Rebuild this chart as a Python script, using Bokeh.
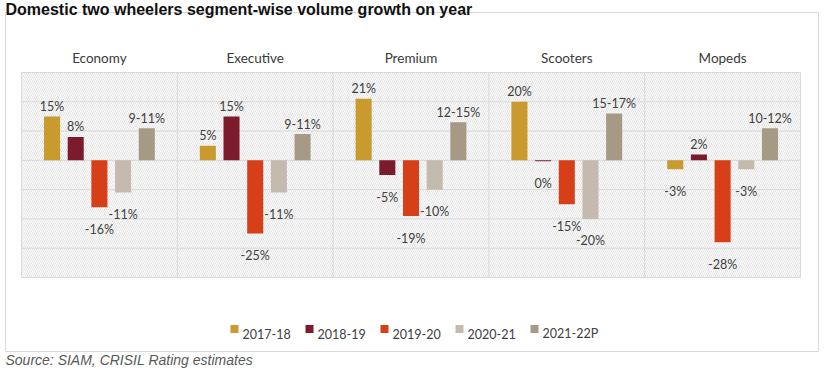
from bokeh.plotting import figure
from bokeh.models import Range1d, ColumnDataSource
from bokeh.core.properties import value
from bokeh.embed import file_html
from bokeh.resources import INLINE

# ---------------- data ----------------
title_text = "Domestic two wheelers segment-wise volume growth on year"
source_text = "Source: SIAM, CRISIL Rating estimates"
categories = ["Economy", "Executive", "Premium", "Scooters", "Mopeds"]
years = ["2017-18", "2018-19", "2019-20", "2020-21", "2021-22P"]
colors = ["#C99A2E", "#7B1B2B", "#D63F18", "#C4BAAE", "#A69985"]

v_2017_18 = [15, 5, 21, 20, -3]
v_2018_19 = [8, 15, -5, -0.3, 2]
v_2019_20 = [-16, -25, -19, -15, -28]
v_2020_21 = [-11, -11, -10, -20, -3]
v_2021_22p = [11, 9, 13, 16, 11]

l_2017_18 = ["15%", "5%", "21%", "20%", "-3%"]
l_2018_19 = ["8%", "15%", "-5%", "0%", "2%"]
l_2019_20 = ["-16%", "-25%", "-19%", "-15%", "-28%"]
l_2020_21 = ["-11%", "-11%", "-10%", "-20%", "-3%"]
l_2021_22p = ["9-11%", "9-11%", "12-15%", "15-17%", "10-12%"]

y_ticks = [-40, -30, -20, -10, 0, 10, 20, 30]

series_values = [v_2017_18, v_2018_19, v_2019_20, v_2020_21, v_2021_22p]
series_labels = [l_2017_18, l_2018_19, l_2019_20, l_2020_21, l_2021_22p]

# ---------------- layout ----------------
W, H = 823, 368
PLOT_LEFT, PLOT_RIGHT = 21, 800
PLOT_TOP, PLOT_BOTTOM = 72, 277
n = len(categories)
Y_MIN, Y_MAX = y_ticks[0], y_ticks[-1]
ky = (PLOT_BOTTOM - PLOT_TOP) / (Y_MAX - Y_MIN)
kx = (PLOT_RIGHT - PLOT_LEFT) / n
BAR_PITCH = 0.152
BAR_W = 0.103
LABEL_FONT = value("Lato")
LABEL_COLOR = "#404040"

x_range = Range1d(-PLOT_LEFT / kx, n + (W - PLOT_RIGHT) / kx)
y_range = Range1d(Y_MIN - (H - PLOT_BOTTOM) / ky, Y_MAX + PLOT_TOP / ky)

p = figure(width=W, height=H, x_range=x_range, y_range=y_range,
           output_backend="svg", toolbar_location=None,
           x_axis_location=None, y_axis_location=None,
           min_border=0, min_border_left=0, min_border_right=0,
           min_border_top=0, min_border_bottom=0)
p.outline_line_color = None
p.background_fill_color = "white"
p.border_fill_color = "white"
for g in p.grid:
    g.visible = False

p.extra_x_ranges = {"px": Range1d(0, W)}
p.extra_y_ranges = {"px": Range1d(H, 0)}

cat_center = [i + 0.5 for i in range(n)]

# outer frame box
p.quad(left=[5], right=[818], top=[12], bottom=[351], fill_color=None,
       line_color="#D9D9D9", line_width=1, x_range_name="px", y_range_name="px")

# hatched plot background
p.quad(left=[0], right=[n], bottom=[Y_MIN], top=[Y_MAX], fill_color="white",
       line_color=None, hatch_pattern="left_diagonal_line", hatch_color="#CFCFCF",
       hatch_scale=4, hatch_weight=0.6)

# grid lines
p.segment(x0=[0] * len(y_ticks), x1=[n] * len(y_ticks), y0=y_ticks, y1=y_ticks,
          line_color="#D9D9D9", line_width=1)
p.segment(x0=list(range(n + 1)), x1=list(range(n + 1)), y0=[Y_MIN] * (n + 1),
          y1=[Y_MAX] * (n + 1), line_color="#D9D9D9", line_width=1)

# bars + labels
for i, (yr, vals, labs, col) in enumerate(zip(years, series_values, series_labels, colors)):
    off = (i - 2) * BAR_PITCH
    src = ColumnDataSource(dict(
        x=[c + off for c in cat_center], val=vals, lab=labs,
        yoff=[-10 if v >= 0 else 22 for v in vals],
    ))
    p.vbar(x="x", top="val", bottom=0, width=BAR_W,
           fill_color=col, line_color=None, source=src)
    p.text(x="x", y="val", text="lab", source=src,
           y_offset="yoff", text_align="center", text_baseline="alphabetic",
           text_font=LABEL_FONT, text_font_size="12.5px", text_color=LABEL_COLOR)

# category headers
p.text(x=cat_center, y=[57] * n, text=categories, y_range_name="px",
       text_align="center", text_baseline="alphabetic", text_font=LABEL_FONT,
       text_font_size="13.5px", text_color="#3A3A3A")

# title
p.text(x=[5], y=[9], text=[title_text], x_range_name="px", y_range_name="px",
       text_align="left", text_baseline="alphabetic", text_font=value("Liberation Sans"),
       text_font_style="bold", text_font_size="16px", text_color="#111111")

# legend
LEG_X0, LEG_PITCH, LEG_Y, SQ = 230, 75, 328.5, 8
for i, (yr, col) in enumerate(zip(years, colors)):
    x = LEG_X0 + i * LEG_PITCH
    p.quad(left=[x], right=[x + SQ], top=[LEG_Y - SQ / 2], bottom=[LEG_Y + SQ / 2],
           fill_color=col, line_color=None, x_range_name="px", y_range_name="px")
    p.text(x=[x + SQ + 4], y=[LEG_Y + 4.5], text=[yr], x_range_name="px", y_range_name="px",
           text_align="left", text_baseline="alphabetic", text_font=LABEL_FONT,
           text_font_size="12.5px", text_color=LABEL_COLOR)

# source
p.text(x=[5], y=[359], text=[source_text], x_range_name="px", y_range_name="px",
       text_align="left", text_baseline="alphabetic", text_font=value("Liberation Sans"),
       text_font_style="italic", text_font_size="14px", text_color="#595959")

open("out.html", "w").write(file_html(p, INLINE))
